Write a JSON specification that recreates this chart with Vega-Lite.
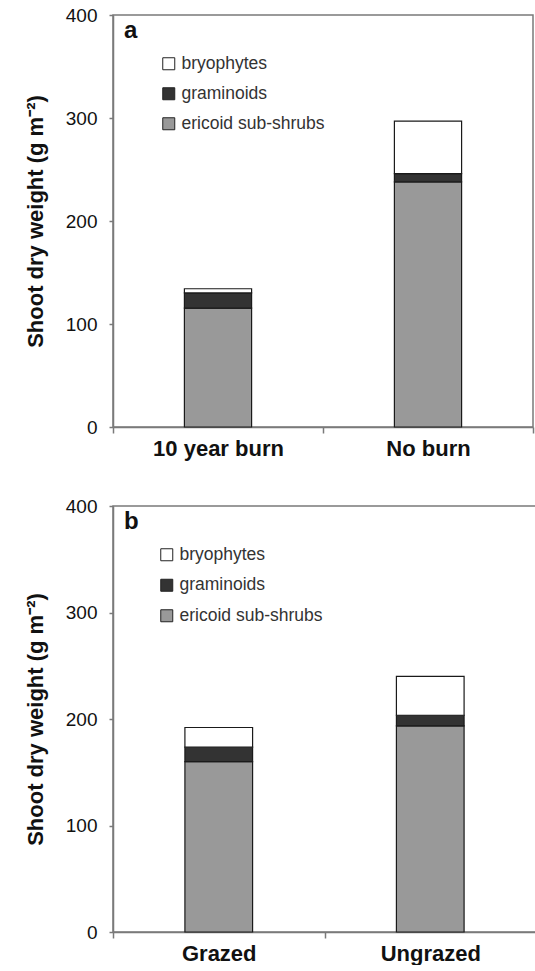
{
  "$schema": "https://vega.github.io/schema/vega-lite/v6.json",
  "padding": {"left": 23, "top": 5, "right": 0, "bottom": 0},
  "background": "white",
  "datasets": {
    "a": [
      {"site": "10 year burn", "group": "ericoid sub-shrubs", "weight": 115.5, "layer": 1},
      {"site": "10 year burn", "group": "graminoids", "weight": 14.7, "layer": 2},
      {"site": "10 year burn", "group": "bryophytes", "weight": 4, "layer": 3},
      {"site": "No burn", "group": "ericoid sub-shrubs", "weight": 238, "layer": 1},
      {"site": "No burn", "group": "graminoids", "weight": 8, "layer": 2},
      {"site": "No burn", "group": "bryophytes", "weight": 51, "layer": 3}
    ],
    "b": [
      {"site": "Grazed", "group": "ericoid sub-shrubs", "weight": 160, "layer": 1},
      {"site": "Grazed", "group": "graminoids", "weight": 13.5, "layer": 2},
      {"site": "Grazed", "group": "bryophytes", "weight": 18.5, "layer": 3},
      {"site": "Ungrazed", "group": "ericoid sub-shrubs", "weight": 193.5, "layer": 1},
      {"site": "Ungrazed", "group": "graminoids", "weight": 10, "layer": 2},
      {"site": "Ungrazed", "group": "bryophytes", "weight": 36.5, "layer": 3}
    ],
    "labelA": [{"label": "a"}],
    "labelB": [{"label": "b"}]
  },
  "config": {
    "font": "Liberation Sans",
    "view": {"stroke": "#7a7a7a", "strokeWidth": 1.5},
    "axis": {"domainColor": "#7a7a7a", "domainWidth": 1.5, "tickColor": "#7a7a7a", "tickWidth": 1.5, "grid": false, "labelColor": "#111111", "titleColor": "#111111"},
    "concat": {"spacing": 36}
  },
  "resolve": {"scale": {"color": "independent", "x": "independent", "y": "independent"}, "legend": {"color": "independent"}},
  "vconcat": [
    {
      "width": 420,
      "height": 412,
      "layer": [
        {
          "data": {"name": "a"},
          "mark": {"type": "bar", "width": {"band": 0.32}, "stroke": "#1a1a1a", "strokeWidth": 1.2},
          "encoding": {
            "x": {"field": "site", "type": "nominal", "sort": ["10 year burn", "No burn"], "scale": {"paddingInner": 0, "paddingOuter": 0},
                  "axis": {"title": null, "labelAngle": 0, "labelFontSize": 22, "labelFontWeight": "bold", "tickBand": "extent", "tickSize": 6, "labelPadding": 5}},
            "y": {"field": "weight", "type": "quantitative", "stack": "zero", "scale": {"domain": [0, 400]}, "title": "Shoot dry weight (g m⁻²)",
                  "axis": {"values": [0, 100, 200, 300, 400], "titleFontSize": 22, "titleFontWeight": "bold", "labelFontSize": 19, "tickSize": 4, "labelPadding": 12, "titlePadding": 18}},
            "color": {"field": "group", "type": "nominal",
                      "scale": {"domain": ["bryophytes", "graminoids", "ericoid sub-shrubs"], "range": ["#ffffff", "#333333", "#999999"]},
                      "legend": {"title": null, "orient": "none", "legendX": 47, "legendY": 40, "symbolType": "square", "symbolSize": 144, "symbolStrokeColor": "#222222", "symbolStrokeWidth": 1, "labelFontSize": 17.5, "labelColor": "#333333", "labelOffset": 4, "rowPadding": 11}},
            "order": {"field": "layer", "type": "quantitative"}
          }
        },
        {
          "data": {"name": "labelA"},
          "mark": {"type": "text", "fontSize": 24, "fontWeight": "bold", "color": "#111111", "align": "left", "baseline": "alphabetic", "dx": 11},
          "encoding": {
            "x": {"datum": "10 year burn", "bandPosition": 0, "title": null},
            "y": {"datum": 378, "title": "Shoot dry weight (g m⁻²)"},
            "text": {"field": "label"}
          }
        }
      ]
    },
    {
      "width": 423,
      "height": 426,
      "layer": [
        {
          "data": {"name": "b"},
          "mark": {"type": "bar", "width": {"band": 0.32}, "stroke": "#1a1a1a", "strokeWidth": 1.2},
          "encoding": {
            "x": {"field": "site", "type": "nominal", "sort": ["Grazed", "Ungrazed"], "scale": {"paddingInner": 0, "paddingOuter": 0},
                  "axis": {"title": null, "labelAngle": 0, "labelFontSize": 22, "labelFontWeight": "bold", "tickBand": "extent", "tickSize": 6, "labelPadding": 5}},
            "y": {"field": "weight", "type": "quantitative", "stack": "zero", "scale": {"domain": [0, 400]}, "title": "Shoot dry weight (g m⁻²)",
                  "axis": {"values": [0, 100, 200, 300, 400], "titleFontSize": 22, "titleFontWeight": "bold", "labelFontSize": 19, "tickSize": 4, "labelPadding": 12, "titlePadding": 18}},
            "color": {"field": "group", "type": "nominal",
                      "scale": {"domain": ["bryophytes", "graminoids", "ericoid sub-shrubs"], "range": ["#ffffff", "#333333", "#999999"]},
                      "legend": {"title": null, "orient": "none", "legendX": 45, "legendY": 40, "symbolType": "square", "symbolSize": 144, "symbolStrokeColor": "#222222", "symbolStrokeWidth": 1, "labelFontSize": 17.5, "labelColor": "#333333", "labelOffset": 4, "rowPadding": 11.5}},
            "order": {"field": "layer", "type": "quantitative"}
          }
        },
        {
          "data": {"name": "labelB"},
          "mark": {"type": "text", "fontSize": 24, "fontWeight": "bold", "color": "#111111", "align": "left", "baseline": "alphabetic", "dx": 11},
          "encoding": {
            "x": {"datum": "Grazed", "bandPosition": 0, "title": null},
            "y": {"datum": 378, "title": "Shoot dry weight (g m⁻²)"},
            "text": {"field": "label"}
          }
        }
      ]
    }
  ]
}
